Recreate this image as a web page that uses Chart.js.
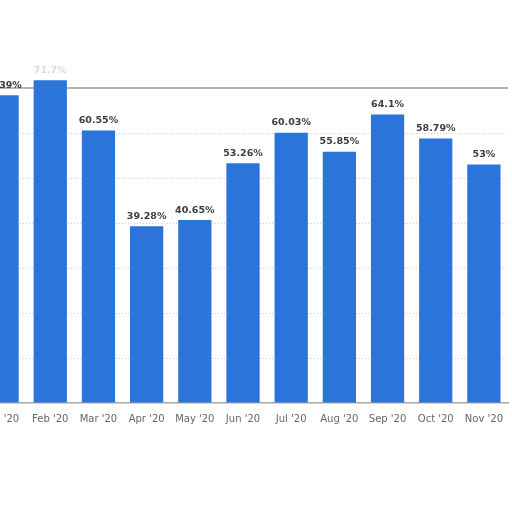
<!DOCTYPE html>
<html>
<head>
<meta charset="utf-8">
<script src="https://cdn.jsdelivr.net/npm/chart.js@4"></script>
<style>
  html, body { margin: 0; padding: 0; background: #fff; overflow: hidden; }
  #wrap { position: absolute; left: -30px; top: 0; width: 545px; height: 512px; }
</style>
</head>
<body>
<div id="wrap"><canvas id="shareChart"></canvas></div>
<script>
// Месяцы
const months = ["Jan '20", "Feb '20", "Mar '20", "Apr '20", "May '20", "Jun '20",
                "Jul '20", "Aug '20", "Sep '20", "Oct '20", "Nov '20"];
// Значения (%)
const shares = [68.39, 71.7, 60.55, 39.28, 40.65, 53.26, 60.03, 55.85, 64.1, 58.79, 53];
// Подписи над столбцами
const shareLabels = ['68.39%', '71.7%', '60.55%', '39.28%', '40.65%', '53.26%',
                     '60.03%', '55.85%', '64.1%', '58.79%', '53%'];
const yTicks = [0, 10, 20, 30, 40, 50, 60, 70];

Chart.defaults.font.family = "'DejaVu Sans', sans-serif";

// Подписи значений над столбцами
const valueLabels = {
    id: 'valueLabels',
    afterDatasetsDraw(chart) {
        const ctx = chart.ctx;
        const meta = chart.getDatasetMeta(0);
        ctx.save();
        ctx.font = 'bold 9.5px "DejaVu Sans"';
        ctx.textAlign = 'center';
        ctx.textBaseline = 'middle';
        meta.data.forEach((bar, i) => {
            // подпись февраля размыта в оригинале
            ctx.fillStyle = i === 1 ? 'rgba(150,150,150,0.35)' : '#3d3d3d';
            ctx.fillText(shareLabels[i], bar.x, bar.y - 10);
        });
        ctx.restore();
    }
};

// Верхняя сплошная линия на уровне 70%
const topLine = {
    id: 'topLine',
    beforeDatasetsDraw(chart) {
        const ctx = chart.ctx;
        const y = chart.scales.y.getPixelForValue(70);
        ctx.save();
        ctx.strokeStyle = '#b5b5b5';
        ctx.lineWidth = 2;
        ctx.beginPath();
        ctx.moveTo(chart.chartArea.left, y);
        ctx.lineTo(chart.chartArea.right, y);
        ctx.stroke();
        ctx.restore();
    }
};

const ctx = document.getElementById('shareChart').getContext('2d');

const chart = new Chart(ctx, {
    type: 'bar',
    data: {
        labels: months,
        datasets: [{
            data: shares,
            backgroundColor: '#2b74d9',
            borderWidth: 0,
            categoryPercentage: 0.69,
            barPercentage: 1,
            clip: false
        }]
    },
    options: {
        responsive: true,
        maintainAspectRatio: false,
        animation: false,
        layout: { padding: { top: 88, left: 8, right: 7, bottom: 0 } },
        plugins: {
            legend: { display: false },
            tooltip: { enabled: false }
        },
        scales: {
            x: {
                grid: { display: false, drawTicks: false },
                border: { display: true, color: '#a8a8a8', width: 1.5 },
                ticks: { color: '#666', font: { size: 10 }, padding: 10, maxRotation: 0, autoSkip: false },
                afterFit(scale) { scale.height = 109; }
            },
            y: {
                display: true,
                min: 0,
                max: 70,
                afterBuildTicks(scale) { scale.ticks = yTicks.map(v => ({ value: v })); },
                ticks: { display: false },
                grid: {
                    drawTicks: false,
                    color: c => (c.tick && (c.tick.value === 70 || c.tick.value === 0)) ? 'rgba(0,0,0,0)' : '#d0d0d0',
                    lineWidth: 1
                },
                border: { display: false, dash: [1, 2] },
                afterFit(scale) { scale.width = 0; }
            }
        }
    },
    plugins: [topLine, valueLabels]
});
</script>
</body>
</html>
